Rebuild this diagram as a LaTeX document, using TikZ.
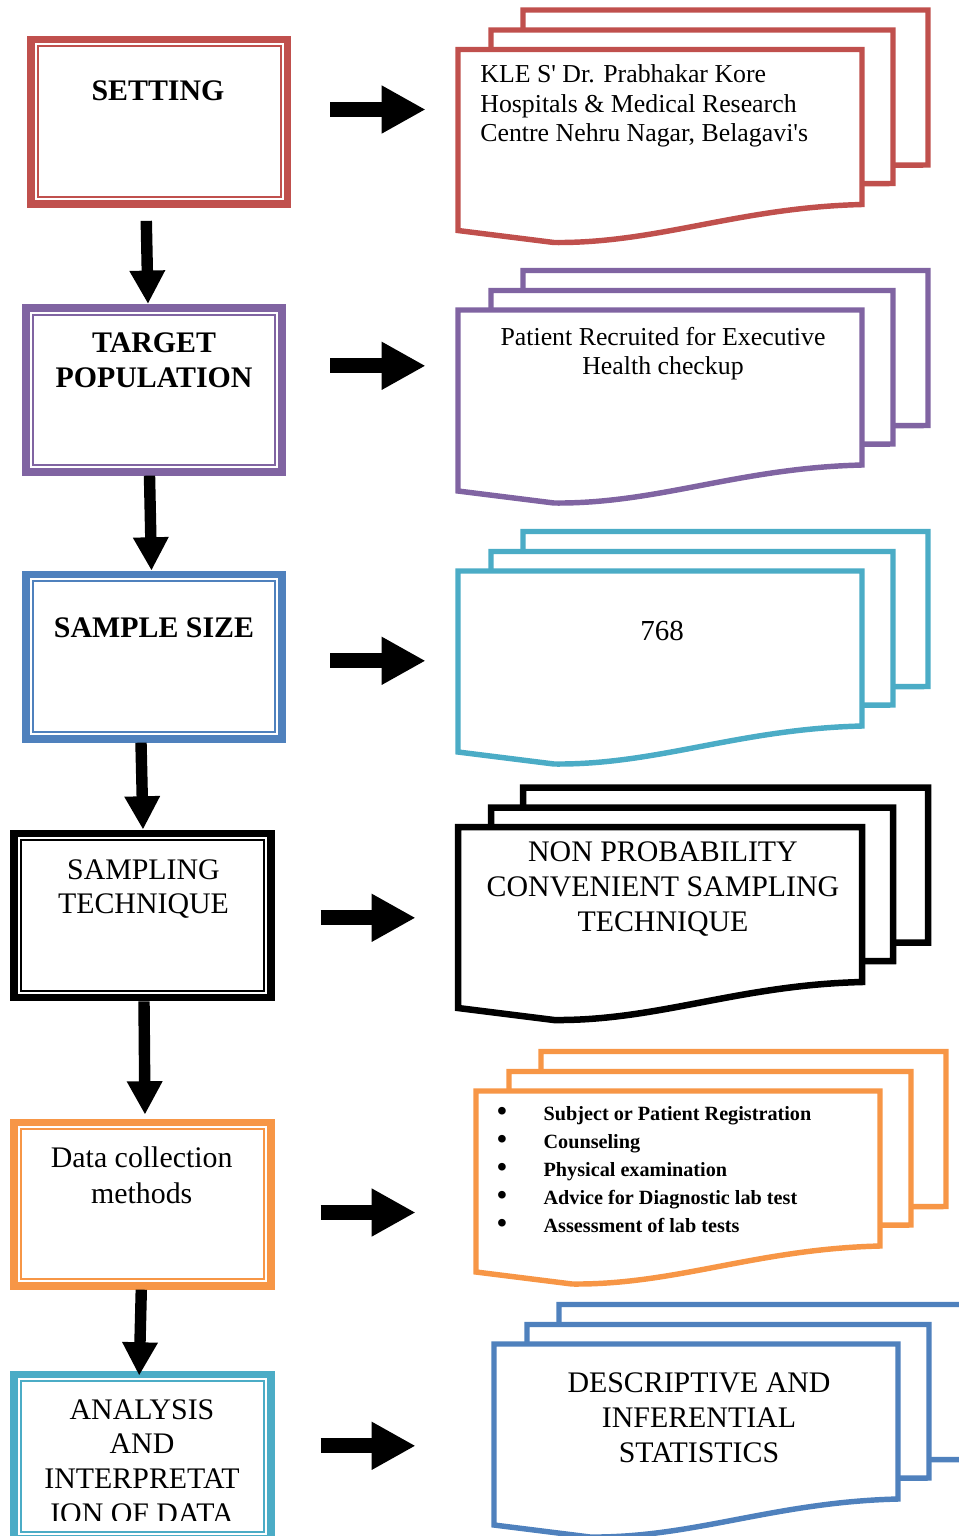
\documentclass[tikz,border=0pt]{standalone}
\usepackage{fontspec}
\setmainfont{Liberation Serif}
\newfontfamily\docfont{Liberation Serif}
\usetikzlibrary{arrows.meta,fit}
\definecolor{cred}{HTML}{C0504D}
\definecolor{cpurple}{HTML}{8064A2}
\definecolor{cblue}{HTML}{4F81BD}
\definecolor{ccyan}{HTML}{4BACC6}
\definecolor{corange}{HTML}{F79646}
\newlength\pxl
\setlength\pxl{0.02cm}
\newcommand\lfont{\fontsize{17pt}{19.8pt}\selectfont}
\newcommand\dfont{\docfont\fontsize{14.7pt}{16.7pt}\selectfont}
\newcommand\blt{\makebox[25.2pt][l]{\hspace*{-1.2pt}{\fontsize{16pt}{16pt}\selectfont\textbullet}}}
\tikzset{
  lbl/.style={align=center, inner sep=0pt, font=\lfont},
  doctext/.style={align=center, inner sep=0pt, font=\dfont},
  harrow/.style={line width=8.5pt, -{Triangle[width=25.5pt,length=25pt]}},
  varrow/.style={line width=6.5pt, -{Triangle[width=19pt,length=19pt]}},
  boxfit/.style={inner sep=0pt},
}
\newcommand\leftbox[4]{%
  \node[boxfit, fit={#3 #4}] (#1) {};
  \draw[draw=#2, line width=4.3pt] ([shift={(3.85,3.85)}]#1.north west) rectangle ([shift={(-3.85,-3.85)}]#1.south east);
  \draw[draw=#2, line width=1.1pt] ([shift={(10.7,10.7)}]#1.north west) rectangle ([shift={(-10.7,-10.7)}]#1.south east);
}
\newcommand\docstack[5]{%
  \begin{scope}[shift={(#4,#5)}]
    \filldraw[draw=#2, fill=white, line width=#3] (65,-39.5) -- (470,-39.5) -- (470,115.5) -- (65,117) -- cycle;
    \filldraw[draw=#2, fill=white, line width=#3] (33,-19.5) -- (435,-19.5) -- (435,134) -- (33,136) -- cycle;
    \filldraw[draw=#2, fill=white, line width=#3] (0,0) -- (404,0) -- (404,155) .. controls (280,158) and (200,194) .. (96,193) -- (0,181) -- cycle;
    \node[boxfit, fit={(0,0) (404,193)}] (#1) {};
  \end{scope}%
}
\begin{document}
\begin{tikzpicture}[x=0.02cm, y=-0.02cm]
\useasboundingbox (0,0) rectangle (959,1536);
\clip (0,0) rectangle (959,1536);

% left boxes
\leftbox{b1}{cred}{(27.5,36)}{(291,207.5)}
\leftbox{b2}{cpurple}{(22.3,304.3)}{(285.7,475.3)}
\leftbox{b3}{cblue}{(22.3,571)}{(285.7,742.3)}
\leftbox{b4}{black}{(10.7,830)}{(274.3,1001)}
\leftbox{b5}{corange}{(10.7,1119)}{(274.3,1289.3)}
\leftbox{b6}{ccyan}{(10.7,1371)}{(274.3,1542)}

\node[lbl, font=\bfseries\lfont] (s1) at (158,91) {SETTING};
\node[lbl, font=\bfseries\lfont] (s2) at (154,360.5) {TARGET\\POPULATION};
\node[lbl, font=\bfseries\lfont] (s3) at (154,628) {SAMPLE SIZE};
\node[lbl] (s4) at (143.5,889) {SAMPLING\\TECHNIQUE};
\node[lbl, font=\fontsize{17pt}{20.4pt}\selectfont] (s5) at (141.7,1175) {Data collection\\methods};
\coordinate (cut6) at (0,1520);
\begin{scope}
  \clip (b6.north west) rectangle (b6.east |- cut6);
  \node[lbl, font=\fontsize{17pt}{19.7pt}\selectfont] (s6) at (142,1461.5) {ANALYSIS\\AND\\INTERPRETAT\\ION OF DATA};
\end{scope}

% right document stacks
\docstack{d1}{cred}{3.1pt}{458}{49.5}
\docstack{d2}{cpurple}{3.1pt}{458}{310}
\docstack{d3}{ccyan}{3.1pt}{458}{571}
\docstack{d4}{black}{3.7pt}{458}{827}
\docstack{d5}{corange}{3.1pt}{476}{1091}
\docstack{d6}{cblue}{3.1pt}{494}{1344}

\node[doctext, align=left, anchor=west] (r1) at (480,106) {KLE S' Dr. Prabhakar Kore\\Hospitals \& Medical Research\\Centre Nehru Nagar, Belagavi's};
\node[doctext] (r2) at (663,353.5) {Patient Recruited for Executive\\Health checkup};
\node[doctext, font=\docfont\fontsize{16.5pt}{18pt}\selectfont] (r3) at (662,631.3) {768};
\node[lbl, font=\fontsize{17pt}{20.1pt}\selectfont] (r4) at (663,889) {NON PROBABILITY\\CONVENIENT SAMPLING\\TECHNIQUE};
\node[lbl, align=left, anchor=west, font=\bfseries\fontsize{11.5pt}{16pt}\selectfont] (r5) at (499,1169.5)
  {\blt Subject or Patient Registration\\
   \blt Counseling\\
   \blt Physical examination\\
   \blt Advice for Diagnostic lab test\\
   \blt Assessment of lab tests};
\node[lbl, font=\fontsize{17pt}{19.8pt}\selectfont] (r6) at (699,1417.7) {DESCRIPTIVE AND\\INFERENTIAL\\STATISTICS};

% vertical arrows
\coordinate (x1a) at (146,0);   \coordinate (x1b) at (148,0);
\coordinate (x2a) at (149.5,0); \coordinate (x2b) at (151.5,0);
\coordinate (x3a) at (141,0);   \coordinate (x3b) at (143,0);
\coordinate (x4a) at (144,0);   \coordinate (x4b) at (145,0);
\coordinate (x5a) at (141.3,0); \coordinate (x5b) at (139.3,0);
\draw[varrow, shorten <=13\pxl] (b1.south -| x1a) -- (b2.north -| x1b);
\draw[varrow] (b2.south -| x2a) -- (b3.north -| x2b);
\draw[varrow] (b3.south -| x3a) -- (b4.north -| x3b);
\draw[varrow, shorten >=4\pxl] (b4.south -| x4a) -- (b5.north -| x4b);
\draw[varrow, shorten >=-5\pxl] (b5.south -| x5a) -- (b6.north -| x5b);

% horizontal arrows
\coordinate (h1) at (0,109.5);
\coordinate (h2) at (0,365.8);
\coordinate (h3) at (0,660.8);
\coordinate (h4) at (0,917.8);
\coordinate (h5) at (0,1212.5);
\coordinate (h6) at (0,1445.8);
\draw[harrow, shorten <=39\pxl, shorten >=32\pxl] (b1.east |- h1) -- (d1.west |- h1);
\draw[harrow, shorten <=44\pxl, shorten >=32\pxl] (b2.east |- h2) -- (d2.west |- h2);
\draw[harrow, shorten <=44\pxl, shorten >=32\pxl] (b3.east |- h3) -- (d3.west |- h3);
\draw[harrow, shorten <=46\pxl, shorten >=42\pxl] (b4.east |- h4) -- (d4.west |- h4);
\draw[harrow, shorten <=46\pxl, shorten >=60\pxl] (b5.east |- h5) -- (d5.west |- h5);
\draw[harrow, shorten <=46\pxl, shorten >=78\pxl] (b6.east |- h6) -- (d6.west |- h6);
\end{tikzpicture}
\end{document}
